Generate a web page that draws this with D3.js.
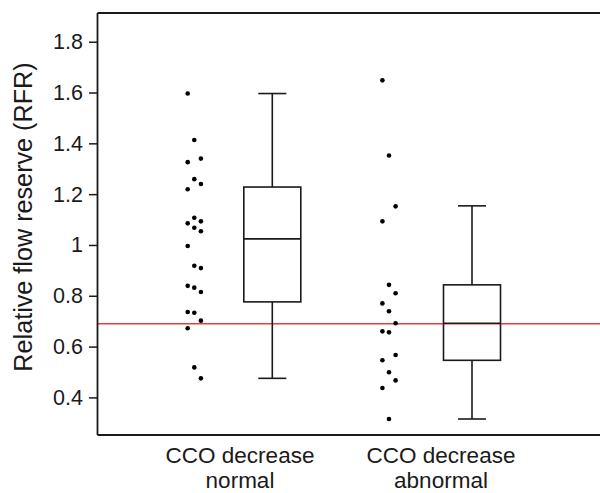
<!DOCTYPE html>
<html>
<head>
<meta charset="utf-8">
<script src="https://cdn.jsdelivr.net/npm/d3@7"></script>
<style>
  html, body { margin: 0; padding: 0; background: #fff; }
  svg { display: block; font-family: "Liberation Sans", Arial, sans-serif; }
</style>
</head>
<body>
<svg id="chart" width="600" height="493"></svg>
<script>
// ---------------- data ----------------
const categories = ["CCO decrease normal", "CCO decrease abnormal"];
const categoryLines = [["CCO decrease", "normal"], ["CCO decrease", "abnormal"]];

const normalValues = [1.596, 1.413, 1.340, 1.326, 1.259, 1.240, 1.219, 1.107, 1.093, 1.085,
  1.068, 1.054, 0.996, 0.918, 0.909, 0.839, 0.832, 0.815, 0.736, 0.733, 0.702, 0.672, 0.518, 0.475];
const abnormalValues = [1.648, 1.352, 1.152, 1.093, 0.843, 0.810, 0.770, 0.739, 0.692, 0.660,
  0.656, 0.567, 0.546, 0.499, 0.467, 0.437, 0.315];

// box statistics [normal, abnormal]
const whiskerLow  = [0.475, 0.315];
const quartile1   = [0.776, 0.546];
const medians     = [1.024, 0.692];
const quartile3   = [1.228, 0.843];
const whiskerHigh = [1.596, 1.154];

const cutoff = 0.69;
const yTicks = [0.4, 0.6, 0.8, 1, 1.2, 1.4, 1.6, 1.8];
const yDomain = [0.252, 1.913];

// ---------------- layout ----------------
const svg = d3.select("#chart");
const mLeft = 97.5, mRight = 600, mTop = 13, mBottom = 435;

const y = d3.scaleLinear().domain(yDomain).range([mBottom, mTop]);
const xLabel = d3.scalePoint().domain(categories).range([240, 441]);
const xDots = d3.scalePoint().domain(categories).range([194.3, 389]);
const xBox = d3.scalePoint().domain(categories).range([272.3, 472]);
const boxHalf = 28.5, capHalf = 14, laneStep = 6.6;

// red cutoff line
svg.append("line")
  .attr("x1", mLeft).attr("x2", mRight)
  .attr("y1", y(cutoff)).attr("y2", y(cutoff))
  .attr("stroke", "#ee3b3f").attr("stroke-width", 1.5);

// dots: three-lane swarm, each point goes to the lane whose nearest neighbour is farthest
function swarm(values) {
  const lanes = [-1, 0, 1];
  const placed = { "-1": [], "0": [], "1": [] };
  return values.map(v => {
    const py = y(v);
    let best = lanes[0], bestD = -1;
    for (const l of lanes) {
      const d = placed[l].length ? d3.min(placed[l], p => Math.abs(p - py)) : 1e9;
      if (d > bestD) { bestD = d; best = l; }
    }
    placed[best].push(py);
    return { v, lane: best };
  });
}
[normalValues, abnormalValues].forEach((vals, i) => {
  const cx = xDots(categories[i]);
  svg.append("g").selectAll("circle")
    .data(swarm(vals))
    .join("circle")
    .attr("cx", d => cx + d.lane * laneStep)
    .attr("cy", d => y(d.v))
    .attr("r", 2.3)
    .attr("fill", "#000");
});

// boxes
categories.forEach((c, i) => {
  const cx = xBox(c);
  const g = svg.append("g").attr("stroke", "#1a1a1a").attr("stroke-width", 1.6).attr("fill", "none");
  g.append("line").attr("x1", cx).attr("x2", cx).attr("y1", y(quartile3[i])).attr("y2", y(whiskerHigh[i]));
  g.append("line").attr("x1", cx).attr("x2", cx).attr("y1", y(quartile1[i])).attr("y2", y(whiskerLow[i]));
  g.append("line").attr("x1", cx - capHalf).attr("x2", cx + capHalf).attr("y1", y(whiskerHigh[i])).attr("y2", y(whiskerHigh[i]));
  g.append("line").attr("x1", cx - capHalf).attr("x2", cx + capHalf).attr("y1", y(whiskerLow[i])).attr("y2", y(whiskerLow[i]));
  g.append("rect").attr("x", cx - boxHalf).attr("width", boxHalf * 2)
    .attr("y", y(quartile3[i])).attr("height", y(quartile1[i]) - y(quartile3[i]));
  g.append("line").attr("x1", cx - boxHalf).attr("x2", cx + boxHalf).attr("y1", y(medians[i])).attr("y2", y(medians[i]));
});

// frame: top, bottom
const frame = svg.append("g").attr("stroke", "#1a1a1a").attr("stroke-width", 1.8);
frame.append("line").attr("x1", mLeft).attr("x2", mRight).attr("y1", mTop).attr("y2", mTop);
frame.append("line").attr("x1", mLeft).attr("x2", mRight).attr("y1", mBottom).attr("y2", mBottom);

// y axis
const yAxis = d3.axisLeft(y).tickValues(yTicks).tickSize(8.5).tickPadding(6)
  .tickFormat(d => String(+d.toFixed(1)));
const ga = svg.append("g").attr("transform", `translate(${mLeft},0)`).call(yAxis);
ga.select(".domain").attr("stroke", "#1a1a1a").attr("stroke-width", 1.8)
  .attr("d", `M0,${mTop}V${mBottom}`);
ga.selectAll(".tick line").attr("stroke", "#1a1a1a").attr("stroke-width", 1.5);
ga.selectAll(".tick text").attr("font-size", 21.5).attr("fill", "#1a1a1a")
  .attr("font-family", "'Liberation Sans', Arial, sans-serif");

// y title
svg.append("text")
  .attr("transform", `translate(32,${(mTop + mBottom) / 2 - 7}) rotate(-90)`)
  .attr("text-anchor", "middle")
  .attr("font-size", 25.2).attr("fill", "#1a1a1a")
  .text("Relative flow reserve (RFR)");

// x category labels
categories.forEach((c, i) => {
  const t = svg.append("text").attr("text-anchor", "middle")
    .attr("font-size", 22.5).attr("fill", "#1a1a1a");
  t.append("tspan").attr("x", xLabel(c)).attr("y", 463).text(categoryLines[i][0]);
  t.append("tspan").attr("x", xLabel(c)).attr("y", 488).text(categoryLines[i][1]);
});
</script>
</body>
</html>
